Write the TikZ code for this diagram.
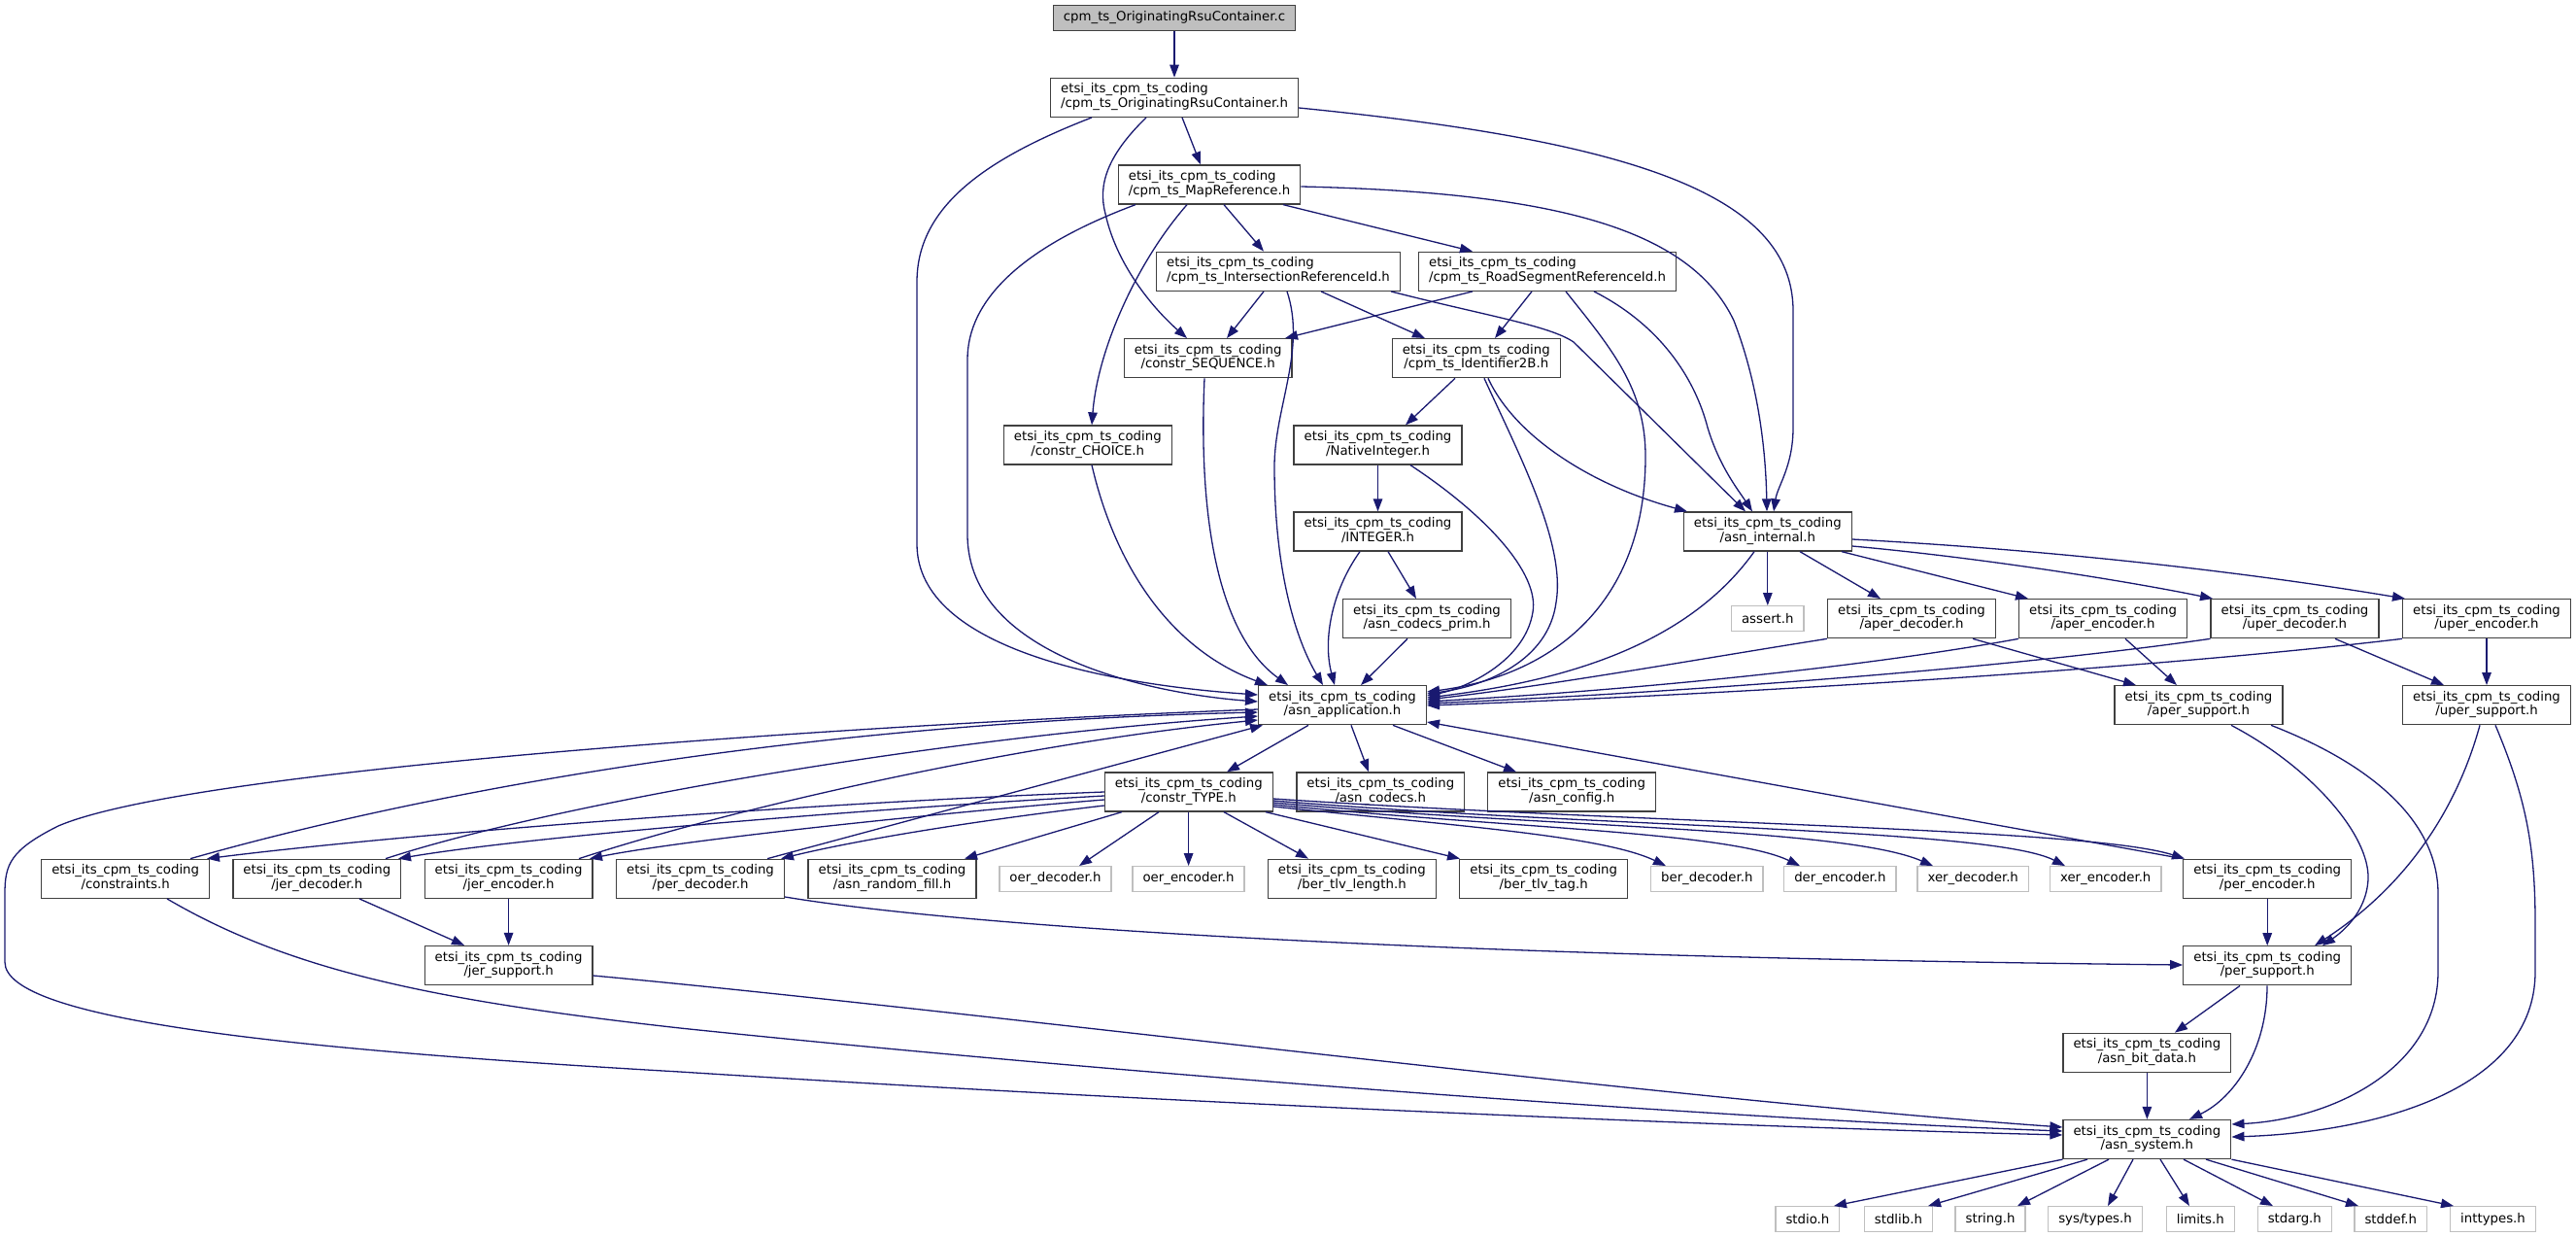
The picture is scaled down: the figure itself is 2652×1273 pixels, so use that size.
\documentclass[tikz,border=0pt]{standalone}
\usepackage{fontspec}
\setmainfont{DejaVu Sans}
\usetikzlibrary{arrows.meta}
\definecolor{dblue}{HTML}{191970}
\definecolor{grayfill}{HTML}{BFBFBF}
\definecolor{nodeborder}{HTML}{404040}
\newcommand{\lbl}[1]{\begin{tabular}{@{}c@{}}\multicolumn{1}{@{}l@{}}{etsi\_its\_cpm\_ts\_coding}\\#1\end{tabular}}
\begin{document}
\begin{tikzpicture}[x=1pt,y=-1pt,font=\fontsize{13.3}{14.5}\selectfont,
  hdr/.style={draw=nodeborder,line width=1.3pt,fill=white,inner xsep=10.5pt,inner ysep=0pt,minimum height=40pt},
  ext/.style={draw=grayfill,line width=1.3pt,fill=white,inner xsep=10.5pt,inner ysep=0pt,minimum height=25.6pt},
  rootbox/.style={draw=nodeborder,line width=1.3pt,fill=grayfill,inner xsep=10.5pt,inner ysep=0pt,minimum height=25.6pt},
  dep/.style={draw=dblue,line width=1.3pt,-{Triangle[length=13pt,width=9.5pt]}}]
\fill[white] (0,0) rectangle (2652,1273);
\useasboundingbox (0,0) rectangle (2652,1273);
% nodes
\node[rootbox] (root) at (1209,18.5) {cpm\_ts\_OriginatingRsuContainer.c};
\node[hdr] (orc) at (1209,100.3) {\lbl{/cpm\_ts\_OriginatingRsuContainer.h}};
\node[hdr] (map) at (1245,190) {\lbl{/cpm\_ts\_MapReference.h}};
\node[hdr] (isect) at (1316,279.3) {\lbl{/cpm\_ts\_IntersectionReferenceId.h}};
\node[hdr] (road) at (1593,279.3) {\lbl{/cpm\_ts\_RoadSegmentReferenceId.h}};
\node[hdr] (seq) at (1243.7,368.7) {\lbl{/constr\_SEQUENCE.h}};
\node[hdr] (idb) at (1519.8,368.7) {\lbl{/cpm\_ts\_Identifier2B.h}};
\node[hdr] (choice) at (1119.8,458) {\lbl{/constr\_CHOICE.h}};
\node[hdr] (native) at (1418.5,458) {\lbl{/NativeInteger.h}};
\node[hdr] (integer) at (1418.5,547) {\lbl{/INTEGER.h}};
\node[hdr] (internal) at (1819.8,547) {\lbl{/asn\_internal.h}};
\node[hdr] (prim) at (1469,636.7) {\lbl{/asn\_codecs\_prim.h}};
\node[ext] (assert) at (1819.8,636.5) {assert.h};
\node[hdr] (aperdec) at (1968,636.7) {\lbl{/aper\_decoder.h}};
\node[hdr] (aperenc) at (2165.1,636.7) {\lbl{/aper\_encoder.h}};
\node[hdr] (uperdec) at (2362.5,636.7) {\lbl{/uper\_decoder.h}};
\node[hdr] (uperenc) at (2560,636.7) {\lbl{/uper\_encoder.h}};
\node[hdr] (app) at (1382,725.7) {\lbl{/asn\_application.h}};
\node[hdr] (apersup) at (2263.5,725.7) {\lbl{/aper\_support.h}};
\node[hdr] (upersup) at (2560,725.7) {\lbl{/uper\_support.h}};
\node[hdr] (type) at (1223.8,815) {\lbl{/constr\_TYPE.h}};
\node[hdr] (codecs) at (1421.3,815) {\lbl{/asn\_codecs.h}};
\node[hdr] (config) at (1618.2,815) {\lbl{/asn\_config.h}};
\node[hdr] (constraints) at (129.2,904.3) {\lbl{/constraints.h}};
\node[hdr] (jerdec) at (326.3,904.3) {\lbl{/jer\_decoder.h}};
\node[hdr] (jerenc) at (523.6,904.3) {\lbl{/jer\_encoder.h}};
\node[hdr] (perdec) at (721,904.3) {\lbl{/per\_decoder.h}};
\node[hdr] (randfill) at (918.5,904.3) {\lbl{/asn\_random\_fill.h}};
\node[ext] (oerdec) at (1086.5,904.5) {oer\_decoder.h};
\node[ext] (oerenc) at (1223.6,904.5) {oer\_encoder.h};
\node[hdr] (berlen) at (1391.8,904.3) {\lbl{/ber\_tlv\_length.h}};
\node[hdr] (bertag) at (1589.2,904.3) {\lbl{/ber\_tlv\_tag.h}};
\node[ext] (berdec) at (1757.3,904.5) {ber\_decoder.h};
\node[ext] (derenc) at (1894.4,904.5) {der\_encoder.h};
\node[ext] (xerdec) at (2031.2,904.5) {xer\_decoder.h};
\node[ext] (xerenc) at (2167.7,904.5) {xer\_encoder.h};
\node[hdr] (perenc) at (2334.2,904.3) {\lbl{/per\_encoder.h}};
\node[hdr] (jersup) at (523.6,993.5) {\lbl{/jer\_support.h}};
\node[hdr] (persup) at (2334.2,993.8) {\lbl{/per\_support.h}};
\node[hdr] (bitdata) at (2210.4,1083.3) {\lbl{/asn\_bit\_data.h}};
\node[hdr] (system) at (2210.4,1172.5) {\lbl{/asn\_system.h}};
\node[ext] (stdio) at (1860.9,1254.5) {stdio.h};
\node[ext] (stdlib) at (1954.4,1254.5) {stdlib.h};
\node[ext] (string) at (2049,1254.5) {string.h};
\node[ext] (systypes) at (2157,1254.5) {sys/types.h};
\node[ext] (limits) at (2265.3,1254.5) {limits.h};
\node[ext] (stdarg) at (2362.3,1254.5) {stdarg.h};
\node[ext] (stddef) at (2461.3,1254.5) {stddef.h};
\node[ext] (inttypes) at (2566.5,1254.5) {inttypes.h};
% edges
\draw[dep] (root.south) -- (orc.north);
\draw[dep] (orc.south -| 1217,0) -- (map.north -| 1236,0);
\draw[dep] (orc.south -| 1180,0) .. controls (1140,160) and (1130,190) .. (1138,220) .. controls (1150,275) and (1190,320) .. (seq.north -| 1222,0);
\draw[dep] (orc.south -| 1124,0) .. controls (1010,165) and (944,215) .. (944,290) -- (944,560) .. controls (944,670) and (1150,705) .. (app.west |- 0,715);
\draw[dep] (orc.east |- 0,111) .. controls (1680,145) and (1846,200) .. (1846,320) -- (1846,440) .. controls (1846,480) and (1830,500) .. (internal.north -| 1826,0);
\draw[dep] (map.south -| 1260,0) -- (isect.north -| 1301,0);
\draw[dep] (map.south -| 1321,0) -- (road.north -| 1516,0);
\draw[dep] (map.south -| 1222,0) .. controls (1170,270) and (1130,360) .. (choice.north -| 1124,0);
\draw[dep] (map.south -| 1169,0) .. controls (1050,255) and (996,310) .. (996,370) -- (996,550) .. controls (996,680) and (1200,715) .. (app.west |- 0,722);
\draw[dep] (map.east |- 0,192) .. controls (1600,198) and (1740,235) .. (1785,330) .. controls (1812,400) and (1818,470) .. (internal.north -| 1819,0);
\draw[dep] (isect.south -| 1301,0) -- (seq.north -| 1263,0);
\draw[dep] (isect.south -| 1360,0) -- (idb.north -| 1467,0);
\draw[dep] (isect.south -| 1325,0) .. controls (1345,360) and (1312,420) .. (1312,480) .. controls (1312,590) and (1335,660) .. (app.north -| 1362,0);
\draw[dep] (isect.south -| 1432,0) .. controls (1530,325) and (1595,335) .. (1620,352) -- (internal.north -| 1797,0);
\draw[dep] (road.south -| 1516,0) -- (seq.north -| 1323,0);
\draw[dep] (road.south -| 1577,0) -- (idb.north -| 1539,0);
\draw[dep] (road.south -| 1612,0) .. controls (1660,360) and (1694,400) .. (1694,470) .. controls (1694,620) and (1600,695) .. (app.east |- 0,712);
\draw[dep] (road.south -| 1641,0) .. controls (1710,335) and (1745,390) .. (1758,440) .. controls (1770,480) and (1790,505) .. (internal.north -| 1804,0);
\draw[dep] (seq.south -| 1240,0) .. controls (1234,520) and (1250,650) .. (app.north -| 1326,0);
\draw[dep] (choice.south -| 1124,0) .. controls (1150,590) and (1210,670) .. (app.north -| 1305,0);
\draw[dep] (idb.south -| 1498,0) -- (native.north -| 1447,0);
\draw[dep] (idb.south -| 1528,0) .. controls (1565,470) and (1612,560) .. (1602,620) .. controls (1594,680) and (1530,706) .. (app.east |- 0,714);
\draw[dep] (idb.south -| 1532,0) .. controls (1560,450) and (1640,500) .. (internal.north -| 1737,0);
\draw[dep] (native.south) -- (integer.north);
\draw[dep] (native.south -| 1452,0) .. controls (1530,530) and (1585,590) .. (1578,630) .. controls (1570,680) and (1510,708) .. (app.east |- 0,716);
\draw[dep] (integer.south -| 1429,0) -- (prim.north -| 1458,0);
\draw[dep] (integer.south -| 1400,0) .. controls (1370,610) and (1362,660) .. (app.north -| 1374,0);
\draw[dep] (prim.south -| 1449,0) -- (app.north -| 1401,0);
\draw[dep] (internal.south -| 1806,0) .. controls (1740,660) and (1620,700) .. (app.east |- 0,718);
\draw[dep] (internal.south) -- (assert.north);
\draw[dep] (internal.south -| 1853,0) -- (aperdec.north -| 1936,0);
\draw[dep] (internal.south -| 1896,0) -- (aperenc.north -| 2088,0);
\draw[dep] (internal.east |- 0,562) .. controls (2050,575) and (2200,600) .. (uperdec.north -| 2278,0);
\draw[dep] (internal.east |- 0,555) .. controls (2150,568) and (2350,595) .. (uperenc.north -| 2476,0);
\draw[dep] (aperdec.south west) .. controls (1750,678) and (1600,705) .. (app.east |- 0,720);
\draw[dep] (aperdec.south -| 2031,0) -- (apersup.north -| 2199,0);
\draw[dep] (aperenc.south west) .. controls (1900,690) and (1650,712) .. (app.east |- 0,722);
\draw[dep] (aperenc.south -| 2188,0) -- (apersup.north -| 2241,0);
\draw[dep] (uperdec.south west) .. controls (2050,690) and (1700,714) .. (app.east |- 0,724);
\draw[dep] (uperdec.south -| 2404,0) -- (upersup.north -| 2516,0);
\draw[dep] (uperenc.south west) .. controls (2200,690) and (1750,716) .. (app.east |- 0,726);
\draw[dep] (uperenc.south) -- (upersup.north);
\draw[dep] (app.south -| 1347,0) -- (type.north -| 1263,0);
\draw[dep] (app.south -| 1391,0) -- (codecs.north -| 1409,0);
\draw[dep] (app.south -| 1434,0) -- (config.north -| 1561,0);
\draw[dep] (app.west |- 0,730) .. controls (900,745) and (200,790) .. (60,850) .. controls (10,875) and (5,890) .. (5,920) -- (5,990) .. controls (5,1050) and (300,1080) .. (700,1103) .. controls (1200,1135) and (1800,1160) .. (system.west |- 0,1168);
\draw[dep] (type.west |- 0,815) .. controls (800,828) and (400,860) .. (constraints.north -| 213,0);
\draw[dep] (type.west |- 0,819) .. controls (900,832) and (550,860) .. (jerdec.north -| 410,0);
\draw[dep] (type.west |- 0,823) .. controls (950,838) and (700,865) .. (jerenc.north -| 607,0);
\draw[dep] (type.west |- 0,829) .. controls (1000,845) and (880,865) .. (perdec.north -| 804,0);
\draw[dep] (type.south -| 1155,0) -- (randfill.north -| 993,0);
\draw[dep] (type.south -| 1193,0) -- (oerdec.north -| 1111,0);
\draw[dep] (type.south -| 1223.6,0) -- (oerenc.north);
\draw[dep] (type.south -| 1260,0) -- (berlen.north -| 1347,0);
\draw[dep] (type.south -| 1303,0) -- (bertag.north -| 1503,0);
\draw[dep] (type.east |- 0,830) .. controls (1500,850) and (1650,860) .. (berdec.north -| 1715,0);
\draw[dep] (type.east |- 0,828) .. controls (1550,852) and (1780,856) .. (derenc.north -| 1853,0);
\draw[dep] (type.east |- 0,826) .. controls (1600,852) and (1900,852) .. (xerdec.north -| 1990,0);
\draw[dep] (type.east |- 0,824) .. controls (1650,852) and (2050,852) .. (xerenc.north -| 2126,0);
\draw[dep] (type.east |- 0,822) .. controls (1700,848) and (2150,852) .. (perenc.north -| 2249,0);
\draw[dep] (constraints.north -| 196,0) .. controls (420,820) and (800,745) .. (app.west |- 0,733);
\draw[dep] (constraints.south -| 172,0) .. controls (300,1000) and (450,1030) .. (700,1058) .. controls (1200,1110) and (1800,1152) .. (system.west |- 0,1164);
\draw[dep] (jerdec.north -| 397,0) .. controls (560,830) and (950,760) .. (app.west |- 0,737);
\draw[dep] (jerdec.south -| 370,0) -- (jersup.north -| 478,0);
\draw[dep] (jerenc.north -| 596,0) .. controls (760,830) and (1050,765) .. (app.west |- 0,741);
\draw[dep] (jerenc.south) -- (jersup.north);
\draw[dep] (perdec.north -| 790,0) -- (app.south -| 1300,0);
\draw[dep] (perdec.east |- 0,923) .. controls (1000,955) and (1500,985) .. (persup.west |- 0,993);
\draw[dep] (perenc.north west) -- (app.east |- 0,743);
\draw[dep] (perenc.south) -- (persup.north);
\draw[dep] (jersup.east |- 0,1004) .. controls (1000,1040) and (1700,1130) .. (system.west |- 0,1160);
\draw[dep] (apersup.south -| 2297,0) .. controls (2380,790) and (2440,860) .. (2438,905) .. controls (2436,940) and (2410,960) .. (persup.north -| 2391,0);
\draw[dep] (apersup.south -| 2338,0) .. controls (2450,790) and (2510,850) .. (2510,920) -- (2510,1000) .. controls (2510,1100) and (2400,1152) .. (system.east |- 0,1157);
\draw[dep] (upersup.south -| 2553,0) .. controls (2530,830) and (2480,910) .. (persup.north -| 2383,0);
\draw[dep] (upersup.south -| 2569,0) .. controls (2600,820) and (2610,870) .. (2610,950) -- (2610,1000) .. controls (2610,1120) and (2450,1165) .. (system.east |- 0,1170);
\draw[dep] (persup.south -| 2306,0) -- (bitdata.north -| 2239,0);
\draw[dep] (persup.south -| 2334,0) .. controls (2334,1080) and (2300,1130) .. (system.north -| 2254,0);
\draw[dep] (bitdata.south) -- (system.north);
\draw[dep] (system.south west) -- (stdio.north -| 1888,0);
\draw[dep] (system.south -| 2149,0) -- (stdlib.north -| 1985,0);
\draw[dep] (system.south -| 2171,0) -- (string.north -| 2077,0);
\draw[dep] (system.south -| 2196,0) -- (systypes.north -| 2170,0);
\draw[dep] (system.south -| 2224,0) -- (limits.north -| 2254,0);
\draw[dep] (system.south -| 2248,0) -- (stdarg.north -| 2340,0);
\draw[dep] (system.south -| 2271,0) -- (stddef.north -| 2428,0);
\draw[dep] (system.south east) -- (inttypes.north -| 2526,0);
\end{tikzpicture}
\end{document}
